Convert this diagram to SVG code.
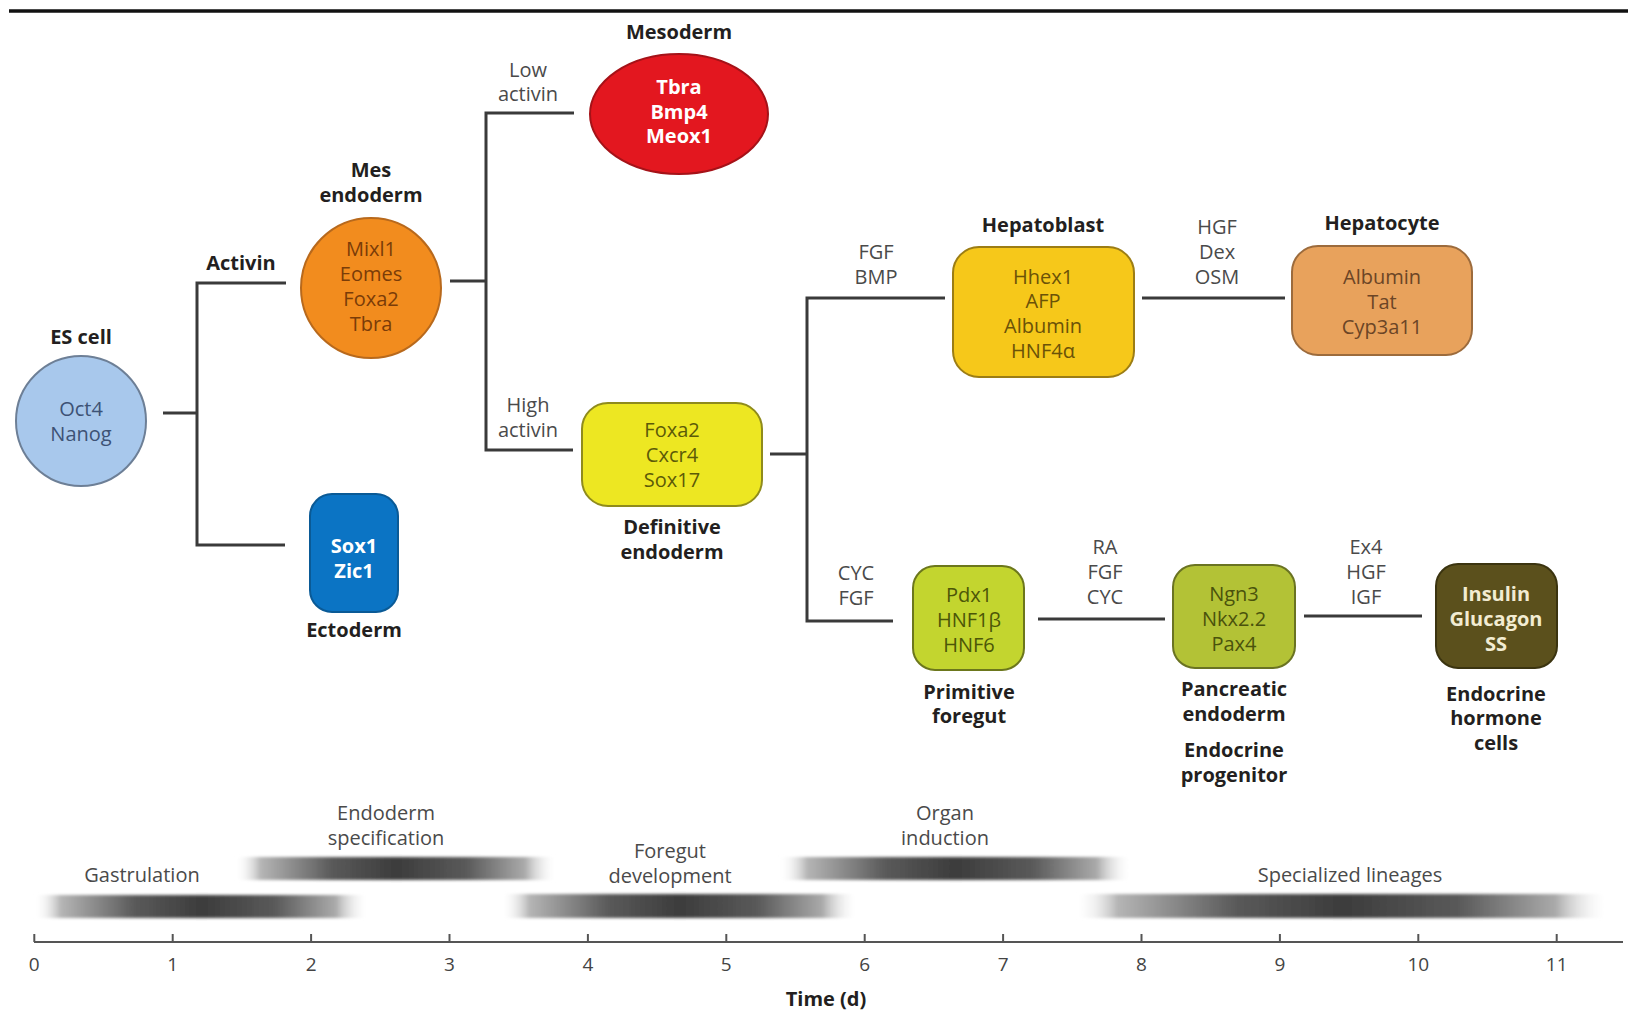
<svg xmlns="http://www.w3.org/2000/svg" width="1628" height="1013" viewBox="0 0 1628 1013">
<defs>
<style>
text{font-family:"Open Sans","Liberation Sans",sans-serif;text-anchor:middle}
.lbl{font-weight:700;font-size:20px;fill:#231f20}
.cond{font-size:20px;fill:#4a4a4a}
.gene{font-size:20px}
.wg{font-size:20px;font-weight:700;fill:#ffffff}
.tick{font-size:19px;fill:#444}
.conn{stroke:#3a3a3a;stroke-width:3;fill:none}
.ph{font-size:20px;fill:#4a4a4a}
</style>
<linearGradient id="bar" x1="0" y1="0" x2="1" y2="0">
<stop offset="0" stop-color="#ffffff" stop-opacity="0"/>
<stop offset="0.08" stop-color="#b5b5b5"/>
<stop offset="0.3" stop-color="#5a5a5a"/>
<stop offset="0.5" stop-color="#3c3c3c"/>
<stop offset="0.72" stop-color="#5a5a5a"/>
<stop offset="0.9" stop-color="#aaaaaa"/>
<stop offset="1" stop-color="#ffffff" stop-opacity="0"/>
</linearGradient>
<filter id="soft" x="-5%" y="-50%" width="110%" height="200%"><feGaussianBlur stdDeviation="1.6"/></filter>
</defs>
<rect width="1628" height="1013" fill="#ffffff"/>
<line x1="9" y1="11" x2="1628" y2="11" stroke="#111" stroke-width="3.5"/>

<g id="connectors">
<polyline class="conn" points="163,413 197,413"/>
<polyline class="conn" points="286,283 197,283 197,545 285,545"/>
<polyline class="conn" points="450,281 486,281"/>
<polyline class="conn" points="574,113 486,113 486,450 573,450"/>
<polyline class="conn" points="770,454 807,454"/>
<polyline class="conn" points="945,298 807,298 807,621 893,621"/>
<polyline class="conn" points="1142,298 1285,298"/>
<polyline class="conn" points="1038,619 1165,619"/>
<polyline class="conn" points="1304,616 1422,616"/>
</g>

<g id="conditions">
<text class="lbl" x="241" y="270">Activin</text>
<text class="cond" x="528" y="77">Low</text>
<text class="cond" x="528" y="101">activin</text>
<text class="cond" x="528" y="412">High</text>
<text class="cond" x="528" y="437">activin</text>
<text class="cond" x="876" y="259">FGF</text>
<text class="cond" x="876" y="284">BMP</text>
<text class="cond" x="1217" y="234">HGF</text>
<text class="cond" x="1217" y="259">Dex</text>
<text class="cond" x="1217" y="284">OSM</text>
<text class="cond" x="856" y="580">CYC</text>
<text class="cond" x="856" y="605">FGF</text>
<text class="cond" x="1105" y="554">RA</text>
<text class="cond" x="1105" y="579">FGF</text>
<text class="cond" x="1105" y="604">CYC</text>
<text class="cond" x="1366" y="554">Ex4</text>
<text class="cond" x="1366" y="579">HGF</text>
<text class="cond" x="1366" y="604">IGF</text>
</g>

<g id="es-cell">
<text class="lbl" x="81" y="344">ES cell</text>
<circle cx="81" cy="421" r="65" fill="#a8c8ec" stroke="#6d7f96" stroke-width="2"/>
<text class="gene" fill="#3d5275" x="81" y="416">Oct4</text>
<text class="gene" fill="#3d5275" x="81" y="441">Nanog</text>
</g>

<g id="mesendoderm">
<text class="lbl" x="371" y="177">Mes</text>
<text class="lbl" x="371" y="202">endoderm</text>
<circle cx="371" cy="288" r="70" fill="#f28c1e" stroke="#b8691c" stroke-width="2"/>
<text class="gene" fill="#7a3c08" x="371" y="256">Mixl1</text>
<text class="gene" fill="#7a3c08" x="371" y="281">Eomes</text>
<text class="gene" fill="#7a3c08" x="371" y="306">Foxa2</text>
<text class="gene" fill="#7a3c08" x="371" y="331">Tbra</text>
</g>

<g id="ectoderm">
<rect x="310" y="494" width="88" height="118" rx="22" fill="#0b74c4" stroke="#0a5a96" stroke-width="2"/>
<text class="wg" x="354" y="553">Sox1</text>
<text class="wg" x="354" y="578">Zic1</text>
<text class="lbl" x="354" y="637">Ectoderm</text>
</g>

<g id="mesoderm">
<text class="lbl" x="679" y="39">Mesoderm</text>
<ellipse cx="679" cy="114" rx="89" ry="60" fill="#e3171f" stroke="#a51218" stroke-width="2"/>
<text class="wg" x="679" y="94">Tbra</text>
<text class="wg" x="679" y="119">Bmp4</text>
<text class="wg" x="679" y="143">Meox1</text>
</g>

<g id="definitive-endoderm">
<rect x="582" y="403" width="180" height="103" rx="26" fill="#ede722" stroke="#8f8b1c" stroke-width="2"/>
<text class="gene" fill="#5c5a08" x="672" y="437">Foxa2</text>
<text class="gene" fill="#5c5a08" x="672" y="462">Cxcr4</text>
<text class="gene" fill="#5c5a08" x="672" y="487">Sox17</text>
<text class="lbl" x="672" y="534">Definitive</text>
<text class="lbl" x="672" y="559">endoderm</text>
</g>

<g id="hepatoblast">
<text class="lbl" x="1043" y="232">Hepatoblast</text>
<rect x="953" y="247" width="181" height="130" rx="26" fill="#f6c81a" stroke="#9c7d14" stroke-width="2"/>
<text class="gene" fill="#6b5208" x="1043" y="284">Hhex1</text>
<text class="gene" fill="#6b5208" x="1043" y="308">AFP</text>
<text class="gene" fill="#6b5208" x="1043" y="333">Albumin</text>
<text class="gene" fill="#6b5208" x="1043" y="358">HNF4α</text>
</g>

<g id="hepatocyte">
<text class="lbl" x="1382" y="230">Hepatocyte</text>
<rect x="1292" y="246" width="180" height="109" rx="26" fill="#e8a25c" stroke="#9c6b3c" stroke-width="2"/>
<text class="gene" fill="#6b4526" x="1382" y="284">Albumin</text>
<text class="gene" fill="#6b4526" x="1382" y="309">Tat</text>
<text class="gene" fill="#6b4526" x="1382" y="334">Cyp3a11</text>
</g>

<g id="primitive-foregut">
<rect x="913" y="566" width="111" height="104" rx="22" fill="#c3d52f" stroke="#6c771c" stroke-width="2"/>
<text class="gene" fill="#4c5608" x="969" y="602">Pdx1</text>
<text class="gene" fill="#4c5608" x="969" y="627">HNF1β</text>
<text class="gene" fill="#4c5608" x="969" y="652">HNF6</text>
<text class="lbl" x="969" y="699">Primitive</text>
<text class="lbl" x="969" y="723">foregut</text>
</g>

<g id="pancreatic-endoderm">
<rect x="1173" y="565" width="122" height="103" rx="22" fill="#b3c236" stroke="#6a7322" stroke-width="2"/>
<text class="gene" fill="#4a520c" x="1234" y="601">Ngn3</text>
<text class="gene" fill="#4a520c" x="1234" y="626">Nkx2.2</text>
<text class="gene" fill="#4a520c" x="1234" y="651">Pax4</text>
<text class="lbl" x="1234" y="696">Pancreatic</text>
<text class="lbl" x="1234" y="721">endoderm</text>
<text class="lbl" x="1234" y="757">Endocrine</text>
<text class="lbl" x="1234" y="782">progenitor</text>
</g>

<g id="endocrine-hormone-cells">
<rect x="1436" y="564" width="121" height="104" rx="22" fill="#5b501c" stroke="#3b3410" stroke-width="2"/>
<text class="wg" style="fill:#f2ecd2" x="1496" y="601">Insulin</text>
<text class="wg" style="fill:#f2ecd2" x="1496" y="626">Glucagon</text>
<text class="wg" style="fill:#f2ecd2" x="1496" y="651">SS</text>
<text class="lbl" x="1496" y="701">Endocrine</text>
<text class="lbl" x="1496" y="725">hormone</text>
<text class="lbl" x="1496" y="750">cells</text>
</g>

<g id="timeline">
<g filter="url(#soft)">
<rect x="34" y="895" width="335" height="23" fill="url(#bar)"/>
<rect x="235" y="857" width="322" height="23" fill="url(#bar)"/>
<rect x="501" y="894" width="357" height="24" fill="url(#bar)"/>
<rect x="779" y="857" width="353" height="23" fill="url(#bar)"/>
<rect x="1075" y="894" width="534" height="24" fill="url(#bar)"/>
</g>
<text class="ph" x="142" y="882">Gastrulation</text>
<text class="ph" x="386" y="820">Endoderm</text>
<text class="ph" x="386" y="845">specification</text>
<text class="ph" x="670" y="858">Foregut</text>
<text class="ph" x="670" y="883">development</text>
<text class="ph" x="945" y="820">Organ</text>
<text class="ph" x="945" y="845">induction</text>
<text class="ph" x="1350" y="882">Specialized lineages</text>
<line x1="34" y1="942" x2="1623" y2="942" stroke="#555" stroke-width="2"/>
<g stroke="#555" stroke-width="2">
<line x1="34.3" y1="934" x2="34.3" y2="942"/>
<line x1="172.7" y1="934" x2="172.7" y2="942"/>
<line x1="311.1" y1="934" x2="311.1" y2="942"/>
<line x1="449.5" y1="934" x2="449.5" y2="942"/>
<line x1="587.9" y1="934" x2="587.9" y2="942"/>
<line x1="726.3" y1="934" x2="726.3" y2="942"/>
<line x1="864.7" y1="934" x2="864.7" y2="942"/>
<line x1="1003.1" y1="934" x2="1003.1" y2="942"/>
<line x1="1141.5" y1="934" x2="1141.5" y2="942"/>
<line x1="1279.9" y1="934" x2="1279.9" y2="942"/>
<line x1="1418.3" y1="934" x2="1418.3" y2="942"/>
<line x1="1556.7" y1="934" x2="1556.7" y2="942"/>
</g>
<text class="tick" x="34.3" y="971">0</text>
<text class="tick" x="172.7" y="971">1</text>
<text class="tick" x="311.1" y="971">2</text>
<text class="tick" x="449.5" y="971">3</text>
<text class="tick" x="587.9" y="971">4</text>
<text class="tick" x="726.3" y="971">5</text>
<text class="tick" x="864.7" y="971">6</text>
<text class="tick" x="1003.1" y="971">7</text>
<text class="tick" x="1141.5" y="971">8</text>
<text class="tick" x="1279.9" y="971">9</text>
<text class="tick" x="1418.3" y="971">10</text>
<text class="tick" x="1556.7" y="971">11</text>
<text class="lbl" x="826" y="1006">Time (d)</text>
</g>
</svg>
